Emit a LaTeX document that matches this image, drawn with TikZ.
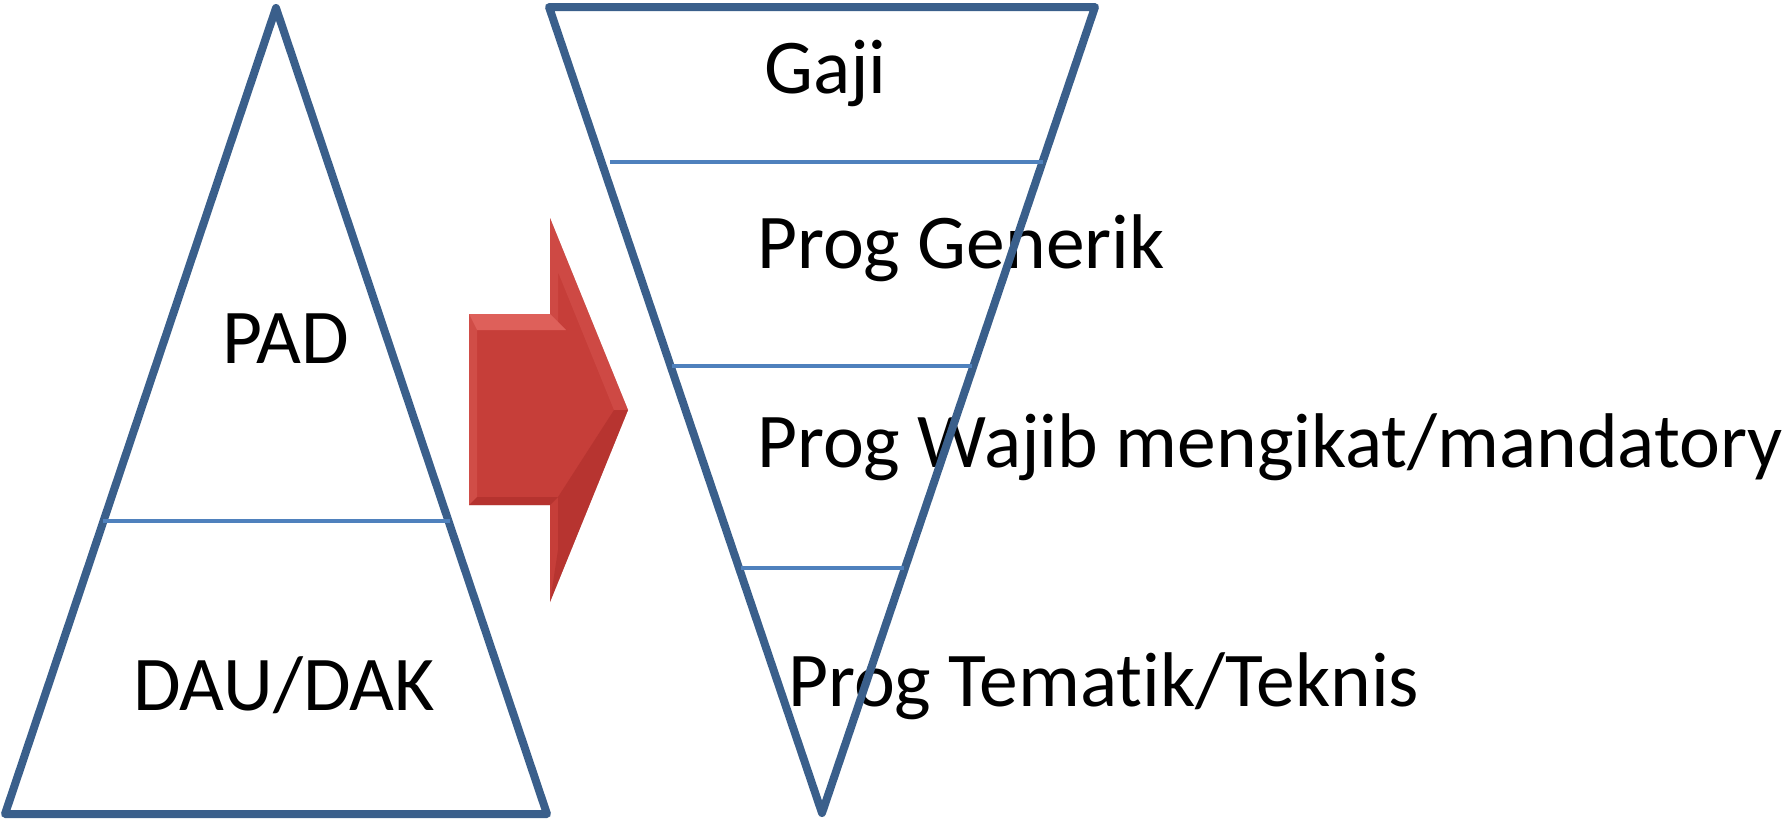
\documentclass[tikz,border=0pt]{standalone}
\usepackage{fontspec}
\setmainfont{Carlito}[Ligatures=NoCommon]
\definecolor{edgeblue}{RGB}{58,95,139}
\definecolor{lineblue}{RGB}{79,129,189}
\definecolor{arrowred}{RGB}{198,62,57}
\definecolor{arrowlight}{RGB}{222,96,90}
\definecolor{arrowdark}{RGB}{165,42,38}
\begin{document}
\begin{tikzpicture}[x=1pt,y=-1pt,
  outline/.style={draw=edgeblue, line width=8pt, line join=round},
  divider/.style={draw=lineblue, line width=3.5pt},
  label/.style={anchor=base west, inner sep=0pt, font=\fontsize{77.5}{92}\selectfont}]
\useasboundingbox (0,0) rectangle (1787,819);

% labels
\node[label] (pad)  at (222,363) {PAD};
\node[label] (dau)  at (133,710) {DAU/DAK};
\node[label] (gaji) at (764,93)  {Gaji};
\node[label] (gen)  at (757,268) {Prog Generik};
\node[label] (waj)  at (757,467) {Prog Wajib mengikat/mandatory};
\node[label] (tem)  at (788,706) {Prog Tematik/Teknis};

% block arrow
\coordinate (a1) at (469,314);
\coordinate (a2) at (550,314);
\coordinate (a3) at (550,218);
\coordinate (a4) at (628,410);
\coordinate (a5) at (550,602);
\coordinate (a6) at (550,505);
\coordinate (a7) at (469,505);
\fill[black, opacity=0.15, shift={(3,5)}] (a1) -- (a2) -- (a3) -- (a4) -- (a5) -- (a6) -- (a7) -- cycle;
\fill[arrowred] (a1) -- (a2) -- (a3) -- (a4) -- (a5) -- (a6) -- (a7) -- cycle;
% bevel faces
\fill[arrowlight] (a1) -- (a2) -- (566,330) -- (477,330) -- cycle;
\fill[arrowlight, opacity=0.45] (a1) -- (477,330) -- (477,497) -- (a7) -- cycle;
\fill[arrowdark, opacity=0.5] (a7) -- (477,497) -- (558,497) -- (a6) -- cycle;
\fill[arrowlight, opacity=0.35] (a3) -- (a4) -- (614,410) -- (558,272) -- (558,330) -- (550,314) -- cycle;
\fill[arrowdark, opacity=0.45] (a4) -- (a5) -- (558,550) -- (558,497) -- (614,410) -- cycle;

% source triangle
\coordinate (l1) at (276,8);
\coordinate (l2) at (5,814);
\coordinate (l3) at (547,814);
\draw[outline] (l1) -- (l2) -- (l3) -- cycle;
\coordinate (ld1) at (103,521);
\coordinate (ld2) at (450,521);
\draw[divider] (ld1) -- (ld2);

% allocation triangle
\coordinate (r1) at (549,7);
\coordinate (r2) at (1095,7);
\coordinate (r3) at (822,813);
\draw[outline] (r1) -- (r2) -- (r3) -- cycle;
\coordinate (rd1a) at (610,162);
\coordinate (rd1b) at (1043,162);
\coordinate (rd2a) at (672,366);
\coordinate (rd2b) at (972,366);
\coordinate (rd3a) at (741,568);
\coordinate (rd3b) at (904,568);
\draw[divider] (rd1a) -- (rd1b);
\draw[divider] (rd2a) -- (rd2b);
\draw[divider] (rd3a) -- (rd3b);
\end{tikzpicture}
\end{document}
